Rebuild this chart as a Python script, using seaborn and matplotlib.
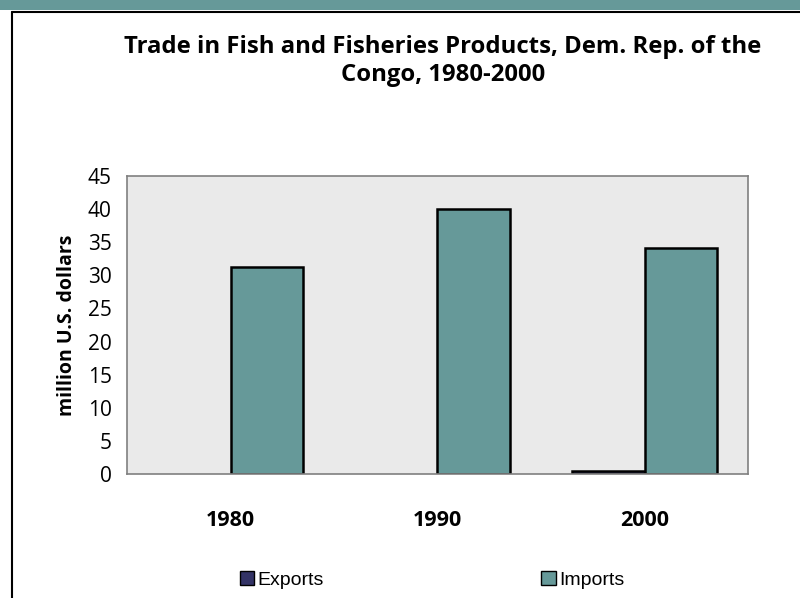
import numpy as np
import pandas as pd
import matplotlib
matplotlib.use("Agg")
import matplotlib.pyplot as plt
import seaborn as sb
from matplotlib.patches import Rectangle
from matplotlib.lines import Line2D

years = ["1980", "1990", "2000"]
exports = [0.0, 0.0, 0.5]
imports = [31.2, 40.0, 34.2]
series = ["Exports", "Imports"]
colors = ["#333366", "#669999"]
title = "Trade in Fish and Fisheries Products, Dem. Rep. of the\nCongo, 1980-2000"

df = pd.DataFrame({
    "Year": years * 2,
    "Value": exports + imports,
    "Series": ["Exports"] * 3 + ["Imports"] * 3,
})

sb.set_style("white")
plt.rcParams['font.family'] = ['Open Sans', 'DejaVu Sans']
plt.rcParams.update({"text.color": "black", "axes.labelcolor": "black",
                     "xtick.color": "black", "ytick.color": "black"})

fig = plt.figure(figsize=(8, 5.98), dpi=100)
ax = fig.add_axes([127 / 800, 1 - 474 / 598, (748 - 127) / 800, (474 - 176) / 598])

sb.barplot(data=df, x="Year", y="Value", hue="Series", palette=colors, saturation=1,
           width=0.7, edgecolor="black", linewidth=1.8, ax=ax, legend=False)

# zero bars show no outline
for p in ax.patches:
    if p.get_height() == 0:
        p.set_edgecolor("none")

ax.set_facecolor("#eaeaea")
ax.set_ylim(0, 45)
ax.set_yticks(np.arange(0, 46, 5))
ax.set_xlabel("")
ax.set_ylabel("million U.S. dollars", fontsize=14, fontweight="bold", labelpad=8)
ax.tick_params(axis="y", labelsize=15, length=0, pad=11)
ax.tick_params(axis="x", labelsize=15.5, length=0, pad=26)
for lab in ax.get_xticklabels():
    lab.set_fontweight("bold")
for sp in ax.spines.values():
    sp.set_color("#808080")
    sp.set_linewidth(1.2)

fig.text(443 / 800, 1 - 61 / 598, title, ha="center", va="center",
         fontsize=17.2, fontweight="bold", linespacing=1.25)

# legend under the axis
handles = [Rectangle((0, 0), 1, 1, facecolor=c, edgecolor="black", linewidth=1) for c in colors]
leg = fig.legend(handles, series, loc="center", bbox_to_anchor=(432 / 800, 1 - 580 / 598),
                 ncol=2, frameon=False, columnspacing=11.2, handlelength=0.75, handleheight=0.75,
                 handletextpad=0.15, prop={"family": "Liberation Sans", "size": 14})

# page frame
fig.add_artist(Rectangle((0, 1 - 10 / 598), 1, 10 / 598, transform=fig.transFigure,
                         facecolor="#669999", edgecolor="none"))
fig.add_artist(Line2D([12 / 800, 12 / 800], [0, 1 - 12 / 598], transform=fig.transFigure,
                      color="black", linewidth=1.5))
fig.add_artist(Line2D([12 / 800, 1], [1 - 12 / 598, 1 - 12 / 598], transform=fig.transFigure,
                      color="black", linewidth=1.5))

fig.savefig("out.png", dpi=100)
